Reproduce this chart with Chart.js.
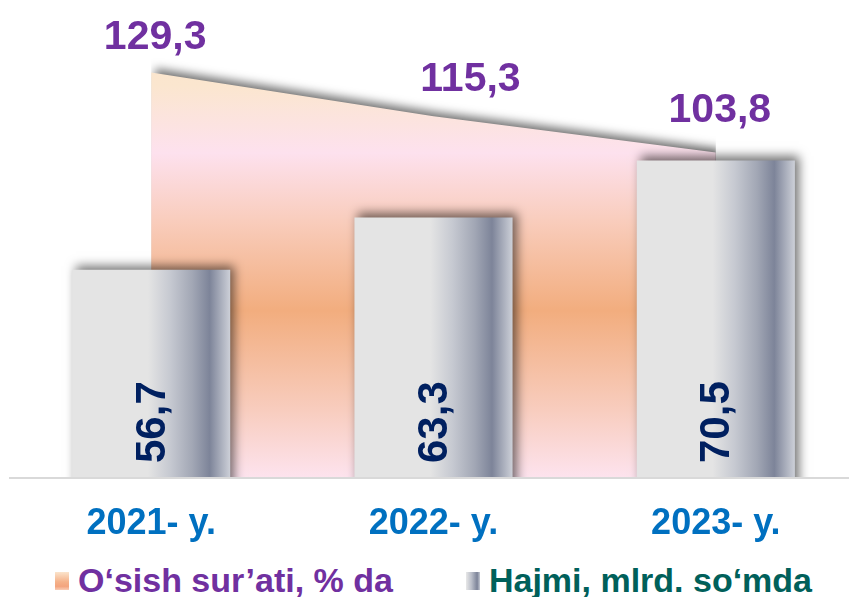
<!DOCTYPE html>
<html>
<head>
<meta charset="utf-8">
<script src="https://cdn.jsdelivr.net/npm/chart.js"></script>
<style>
  html, body { margin: 0; background: #fff; overflow: hidden; }
  #wrap { position: absolute; left: 0; top: 0; width: 857px; height: 548px; }
  #legend { position: absolute; left: 0; top: 563px; width: 849px; height: 34px;
    display: flex; align-items: center; padding-left: 55px; box-sizing: border-box;
    font: bold 34px "Liberation Sans", Arial, sans-serif; line-height: 34px; }
  .item { display: flex; align-items: center; white-space: nowrap; }
  .item + .item { margin-left: 73px; }
  .mk { width: 14px; height: 18px; margin-right: 9px; margin-top: 2px; }
</style>
</head>
<body>
<div id="wrap"><canvas id="myChart"></canvas></div>
<div id="legend"></div>
<script>
const years = ['2021- y.', '2022- y.', '2023- y.'];
const growthRate = [129.3, 115.3, 103.8];
const volume = [56.7, 63.3, 70.5];
const growthLabel = 'O‘sish sur’ati, % da';
const volumeLabel = 'Hajmi, mlrd. so‘mda';

const fmt = v => v.toFixed(1).replace('.', ',');

// html legend
const legendItems = [
  { text: growthLabel, color: '#7030a0', bg: 'linear-gradient(#fbe4cc, #f5b189 55%, #f3a47e 80%, #f9cdb6)' },
  { text: volumeLabel, color: '#00605a', bg: 'linear-gradient(90deg, #e8e8e8, #b9bdc8 40%, #7c8398 80%, #c4c8d2)' }
];
const legendBox = document.getElementById('legend');
legendItems.forEach(it => {
  const d = document.createElement('div');
  d.className = 'item';
  const m = document.createElement('div');
  m.className = 'mk';
  m.style.background = it.bg;
  const t = document.createElement('span');
  t.textContent = it.text;
  t.style.color = it.color;
  d.appendChild(m);
  d.appendChild(t);
  legendBox.appendChild(d);
});

function barFill(c) {
  const chart = c.chart;
  const x = chart.scales.x;
  if (!x || c.dataIndex === undefined) return '#e4e4e4';
  const cx = x.getPixelForValue(c.dataIndex);
  const w = (x.width / years.length) * 0.56;
  if (!isFinite(cx) || !isFinite(w) || w <= 0) return '#e4e4e4';
  const g = chart.ctx.createLinearGradient(cx - w / 2, 0, cx + w / 2, 0);
  g.addColorStop(0, '#e4e4e4');
  g.addColorStop(0.48, '#e4e4e4');
  g.addColorStop(0.62, '#c6c9d1');
  g.addColorStop(0.76, '#a2a7b5');
  g.addColorStop(0.87, '#7d8499');
  g.addColorStop(1, '#cdd0d8');
  return g;
}

function areaFill(c) {
  const a = c.chart.chartArea;
  if (!a || !isFinite(a.top) || !isFinite(a.bottom)) return '#f3b080';
  const g = c.chart.ctx.createLinearGradient(0, a.top, 0, a.bottom);
  g.addColorStop(0, '#fbe4c8');
  g.addColorStop(0.18, '#fbe6cf');
  g.addColorStop(0.32, '#fde1ee');
  g.addColorStop(0.46, '#f9cdbd');
  g.addColorStop(0.65, '#f2ad7e');
  g.addColorStop(0.86, '#f8cdbf');
  g.addColorStop(1, '#fde3ee');
  return g;
}

const decor = {
  id: 'decor',
  beforeDatasetsDraw(chart) {
    const ctx = chart.ctx;
    ctx.save();
    ctx.shadowColor = 'rgba(0,0,0,0.55)';
    ctx.shadowBlur = 10;
    ctx.shadowOffsetX = 4;
    ctx.shadowOffsetY = -4;
  },
  afterDatasetsDraw(chart) {
    const ctx = chart.ctx;
    ctx.restore();
    ctx.save();
    // growth labels above the area
    const pts = chart.getDatasetMeta(0).data;
    const dx = [4, 37, 4];
    const dy = [23, 25, 30];
    ctx.font = 'bold 41px "Liberation Sans", Arial, sans-serif';
    ctx.fillStyle = '#7030a0';
    ctx.textAlign = 'center';
    ctx.textBaseline = 'alphabetic';
    pts.forEach((p, i) => {
      ctx.fillText(fmt(growthRate[i]), p.x + dx[i], p.y - dy[i]);
    });
    // volume labels, rotated inside bars
    const bars = chart.getDatasetMeta(1).data;
    const bottom = chart.chartArea.bottom;
    ctx.font = 'bold 42px "Liberation Sans", Arial, sans-serif';
    ctx.fillStyle = '#002060';
    ctx.textAlign = 'left';
    ctx.textBaseline = 'middle';
    bars.forEach((b, i) => {
      ctx.save();
      ctx.translate(b.x, bottom - 15);
      ctx.rotate(-Math.PI / 2);
      ctx.fillText(fmt(volume[i]), 0, 2);
      ctx.restore();
    });
    ctx.restore();
  }
};

const ctx = document.getElementById('myChart');

new Chart(ctx, {
  data: {
    labels: years,
    datasets: [{
      type: 'line',
      label: growthLabel,
      data: growthRate,
      yAxisID: 'y1',
      fill: 'origin',
      backgroundColor: areaFill,
      borderColor: 'transparent',
      borderWidth: 0,
      pointRadius: 0,
      tension: 0,
      order: 2
    }, {
      type: 'bar',
      label: volumeLabel,
      data: volume,
      yAxisID: 'y',
      backgroundColor: barFill,
      borderWidth: 0,
      categoryPercentage: 1,
      barPercentage: 0.56,
      order: 1
    }]
  },
  options: {
    responsive: true,
    maintainAspectRatio: false,
    animation: false,
    layout: { padding: { left: 10, right: 0, top: 0, bottom: 0 } },
    plugins: {
      legend: { display: false },
      tooltip: { enabled: false }
    },
    scales: {
      x: {
        offset: true,
        grid: { display: false, drawTicks: false },
        border: { display: true, color: '#d9d9d9', width: 2, z: 1 },
        ticks: {
          z: 1,
          padding: 24,
          color: '#0070c0',
          font: { family: '"Liberation Sans", Arial, sans-serif', weight: 'bold', size: 36 }
        },
        afterFit(scale) { scale.height = 70; }
      },
      y: { display: false, min: 30.4, max: 90.75 },
      y1: { display: false, min: 0, max: 152.4 }
    }
  },
  plugins: [decor]
});
</script>
</body>
</html>
